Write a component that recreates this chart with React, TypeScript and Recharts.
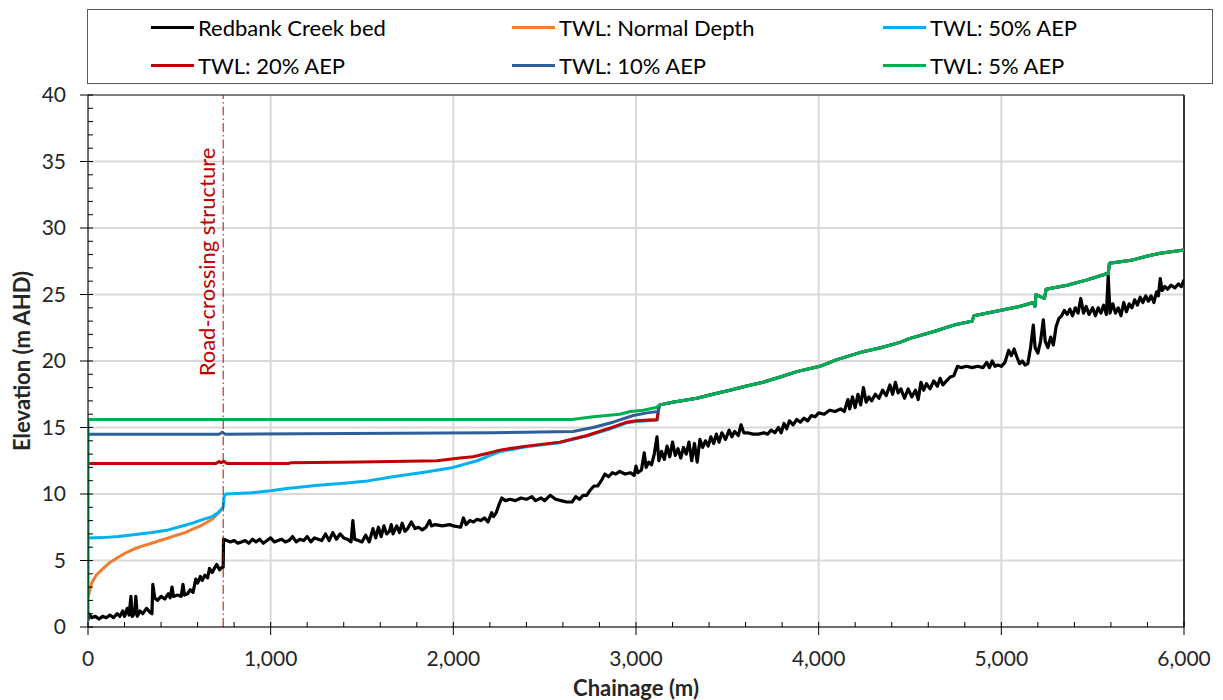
import React from 'react';
import { LineChart, Line, XAxis, YAxis, CartesianGrid, ReferenceLine, Label } from 'recharts';

type Pt = [number, number];

// Redbank Creek bed (chainage m, elevation m AHD)
const bedPoints: Pt[] = [
  [0, 0.5], [5, 1.0], [20, 0.7], [40, 0.8], [60, 0.6], [80, 0.8], [100, 0.7], [120, 0.9], [140, 0.7], [160, 1.0],
  [175, 0.8], [190, 1.2], [200, 0.8], [215, 1.4], [225, 0.9], [235, 2.3], [242, 0.8], [255, 1.0], [262, 2.3], [270, 0.8],
  [285, 1.2], [300, 1.0], [320, 1.4], [340, 1.1], [350, 1.0], [355, 3.2], [365, 2.2], [380, 2.0], [400, 2.3], [420, 2.1],
  [440, 2.5], [450, 2.2], [460, 3.0], [468, 2.3], [490, 2.4], [510, 2.3], [520, 3.2], [528, 2.4], [545, 2.5], [560, 2.8],
  [575, 2.6], [590, 3.6], [600, 3.3], [615, 3.8], [625, 3.5], [640, 3.9], [655, 3.7], [665, 4.4], [680, 4.1], [695, 4.5],
  [705, 4.7], [720, 4.3], [735, 4.5], [740, 4.5], [742, 6.6], [760, 6.5], [780, 6.4], [800, 6.5], [820, 6.3], [840, 6.4],
  [860, 6.5], [880, 6.3], [900, 6.6], [920, 6.4], [940, 6.6], [960, 6.3], [980, 6.5], [1000, 6.7], [1020, 6.4], [1040, 6.5],
  [1060, 6.6], [1080, 6.4], [1100, 6.5], [1120, 6.8], [1140, 6.4], [1160, 6.6], [1180, 6.5], [1200, 6.8], [1220, 6.4], [1240, 6.7],
  [1260, 6.6], [1280, 6.5], [1300, 7.0], [1320, 6.5], [1340, 7.1], [1360, 6.6], [1380, 7.0], [1400, 6.7], [1420, 6.6], [1440, 6.4],
  [1450, 8.0], [1460, 6.6], [1480, 6.5], [1500, 6.4], [1520, 6.9], [1540, 6.4], [1560, 7.4], [1575, 6.7], [1590, 7.5], [1605, 6.8],
  [1620, 7.6], [1635, 7.0], [1650, 7.2], [1660, 7.7], [1670, 7.0], [1690, 7.6], [1705, 7.1], [1720, 7.8], [1735, 7.2], [1750, 7.4],
  [1770, 7.9], [1790, 7.4], [1810, 7.5], [1830, 7.3], [1850, 7.5], [1870, 8.0], [1880, 7.6], [1900, 7.7], [1940, 7.6], [1980, 7.7],
  [2000, 7.6], [2040, 7.5], [2055, 8.2], [2070, 7.7], [2090, 8.0], [2110, 7.9], [2130, 8.1], [2150, 8.0], [2170, 8.2], [2190, 7.9],
  [2210, 8.6], [2220, 8.3], [2235, 8.6], [2250, 9.2], [2265, 9.7], [2285, 9.5], [2310, 9.6], [2340, 9.5], [2370, 9.7], [2400, 9.6],
  [2430, 9.8], [2450, 9.5], [2480, 9.7], [2500, 9.5], [2530, 9.9], [2560, 9.6], [2590, 9.5], [2620, 9.4], [2650, 9.4], [2670, 9.8],
  [2690, 9.6], [2710, 9.9], [2730, 9.9], [2750, 10.3], [2770, 10.6], [2790, 10.6], [2810, 11.0], [2830, 11.5], [2850, 11.3], [2870, 11.6],
  [2890, 11.5], [2910, 11.7], [2940, 11.5], [2970, 11.6], [2990, 11.4], [3000, 12.1], [3010, 11.6], [3030, 11.8], [3045, 13.1], [3055, 12.0],
  [3070, 12.4], [3085, 12.2], [3100, 13.0], [3115, 14.3], [3125, 12.5], [3140, 13.2], [3155, 12.6], [3170, 13.6], [3185, 12.8], [3200, 13.9],
  [3215, 12.9], [3230, 13.4], [3245, 12.7], [3260, 13.5], [3275, 13.0], [3290, 13.9], [3305, 12.5], [3320, 13.8], [3335, 12.4], [3350, 14.1],
  [3365, 13.5], [3380, 14.0], [3395, 13.6], [3410, 14.3], [3425, 13.8], [3440, 14.5], [3455, 13.9], [3470, 14.6], [3490, 14.1], [3510, 14.8],
  [3525, 14.3], [3540, 14.7], [3560, 14.4], [3575, 15.2], [3590, 14.6], [3610, 14.6], [3640, 14.5], [3670, 14.5], [3700, 14.6], [3720, 14.5],
  [3740, 14.8], [3760, 14.6], [3780, 15.0], [3795, 14.6], [3810, 15.3], [3825, 14.9], [3840, 15.5], [3860, 15.2], [3880, 15.6], [3900, 15.4],
  [3920, 15.7], [3940, 15.5], [3960, 15.9], [3980, 15.8], [4000, 16.1], [4030, 16.0], [4060, 16.3], [4090, 16.2], [4120, 16.4], [4140, 16.2],
  [4160, 17.1], [4170, 16.4], [4185, 17.3], [4200, 16.5], [4215, 17.5], [4230, 16.7], [4245, 18.0], [4260, 16.9], [4275, 17.3], [4290, 17.0],
  [4310, 17.5], [4330, 17.2], [4350, 17.8], [4370, 17.4], [4390, 18.2], [4405, 17.5], [4420, 18.4], [4435, 17.6], [4450, 17.9], [4470, 17.2],
  [4490, 17.9], [4510, 17.3], [4530, 17.8], [4545, 17.1], [4560, 18.4], [4575, 17.8], [4590, 18.3], [4610, 17.9], [4630, 18.5], [4650, 18.1],
  [4665, 18.7], [4680, 18.2], [4700, 18.5], [4720, 18.8], [4740, 18.9], [4760, 19.6], [4780, 19.5], [4810, 19.6], [4840, 19.5], [4870, 19.6],
  [4900, 19.5], [4920, 19.9], [4935, 19.5], [4950, 20.0], [4965, 19.6], [4980, 19.7], [5000, 19.6], [5020, 19.9], [5040, 20.8], [5055, 20.4],
  [5070, 20.9], [5085, 20.3], [5100, 19.8], [5115, 20.0], [5130, 19.7], [5145, 19.8], [5160, 21.0], [5175, 22.7], [5185, 21.0], [5200, 20.6],
  [5215, 21.5], [5230, 23.1], [5240, 21.5], [5255, 21.0], [5270, 21.8], [5285, 21.2], [5300, 22.6], [5315, 23.2], [5330, 23.4], [5345, 23.8],
  [5360, 23.5], [5375, 23.9], [5390, 23.4], [5405, 24.0], [5420, 23.6], [5435, 24.7], [5450, 23.6], [5465, 24.1], [5480, 23.5], [5500, 24.0],
  [5515, 23.4], [5530, 24.0], [5545, 23.6], [5560, 24.2], [5575, 23.5], [5585, 26.4], [5595, 23.6], [5610, 24.3], [5625, 23.6], [5640, 24.0],
  [5655, 23.4], [5670, 24.4], [5685, 23.7], [5700, 24.3], [5715, 24.0], [5730, 24.6], [5745, 24.2], [5760, 24.8], [5775, 24.4], [5790, 24.9],
  [5805, 24.5], [5820, 24.9], [5835, 24.4], [5850, 25.2], [5860, 24.9], [5870, 26.2], [5880, 25.3], [5895, 25.6], [5910, 25.4], [5930, 25.7],
  [5950, 25.5], [5970, 25.8], [5985, 25.6], [6000, 26.1],
];

// TWL: Normal Depth
const normalDepthPoints: Pt[] = [
  [0, 2.2], [20, 3.3], [45, 3.9], [75, 4.3], [120, 4.85], [166, 5.25], [210, 5.6], [257, 5.9], [300, 6.1], [349, 6.3],
  [395, 6.5], [440, 6.7], [485, 6.9], [531, 7.1], [580, 7.4], [622, 7.65], [680, 8.1], [713, 8.55], [740, 9.0],
];

// Upstream (independent) parts of each TWL profile
const aep50Head: Pt[] = [
  [0, 6.7], [80, 6.72], [166, 6.8], [260, 6.95], [349, 7.1], [440, 7.3], [531, 7.65], [580, 7.85], [622, 8.05], [680, 8.3],
  [713, 8.6], [740, 9.0], [745, 9.8], [755, 10.0], [896, 10.1], [1000, 10.25], [1078, 10.4], [1259, 10.65], [1400, 10.8], [1516, 10.95],
  [1670, 11.3], [1850, 11.65], [2000, 12.0], [2130, 12.5], [2220, 13.0], [2260, 13.2], [2400, 13.55], [2580, 13.85], [2730, 14.35], [2860, 14.9],
  [2950, 15.35], [3000, 15.45], [3115, 15.55], [3125, 16.5],
];
const aep20Head: Pt[] = [
  [0, 12.3], [700, 12.3], [718, 12.45], [728, 12.35], [745, 12.45], [760, 12.3], [1100, 12.3], [1110, 12.35], [1489, 12.4], [1911, 12.5],
  [2036, 12.7], [2108, 12.8], [2184, 13.05], [2255, 13.3], [2400, 13.6], [2583, 13.9], [2731, 14.4], [2857, 14.95], [2950, 15.4], [3000, 15.5],
  [3115, 15.6], [3125, 16.5],
];
const aep10Head: Pt[] = [
  [0, 14.5], [720, 14.5], [735, 14.65], [750, 14.5], [2217, 14.6], [2655, 14.7], [2765, 15.0], [2874, 15.4], [2985, 15.9], [3060, 16.1],
  [3120, 16.2],
];
const aep5Head: Pt[] = [
  [0, 0.5], [0, 15.6], [2650, 15.6], [2765, 15.8], [2910, 16.0], [2970, 16.2], [3040, 16.3], [3110, 16.5],
];
// Downstream reach where all TWL profiles coincide
const twlTail: Pt[] = [
  [3131, 16.7], [3200, 16.9], [3333, 17.2], [3420, 17.5], [3514, 17.8], [3600, 18.1], [3695, 18.4], [3790, 18.8], [3880, 19.2], [4007, 19.6],
  [4100, 20.1], [4243, 20.7], [4340, 21.0], [4445, 21.4], [4500, 21.7], [4627, 22.2], [4740, 22.7], [4840, 23.0], [4850, 23.4], [4992, 23.8],
  [5100, 24.1], [5175, 24.4], [5184, 24.1], [5190, 25.0], [5236, 24.7], [5245, 25.4], [5360, 25.7], [5470, 26.1], [5585, 26.6], [5592, 27.35],
  [5720, 27.6], [5800, 27.9], [5870, 28.1], [6000, 28.35],
];

const xMajorTicks = [0, 1000, 2000, 3000, 4000, 5000, 6000];
const xMinorTicks = [
  0, 200, 400, 600, 800, 1000, 1200, 1400, 1600, 1800, 2000, 2200, 2400, 2600, 2800, 3000, 3200, 3400, 3600, 3800,
  4000, 4200, 4400, 4600, 4800, 5000, 5200, 5400, 5600, 5800, 6000,
];
const yMajorTicks = [0, 5, 10, 15, 20, 25, 30, 35, 40];
const yMinorTicks = [
  0, 1, 2, 3, 4, 5, 6, 7, 8, 9, 10, 11, 12, 13, 14, 15, 16, 17, 18, 19, 20, 21, 22, 23, 24, 25, 26, 27, 28, 29, 30,
  31, 32, 33, 34, 35, 36, 37, 38, 39, 40,
];
const roadCrossingChainage = 740;

const toData = (pts: Pt[]) => pts.map(([x, y]) => ({ x, y }));

const series = [
  { name: 'Redbank Creek bed', color: '#000000', width: 3.2, data: toData(bedPoints) },
  { name: 'TWL: Normal Depth', color: '#ed7d31', width: 3, data: toData(normalDepthPoints) },
  { name: 'TWL: 50% AEP', color: '#00b0f0', width: 3, data: toData([...aep50Head, ...twlTail]) },
  { name: 'TWL: 20% AEP', color: '#c00000', width: 3, data: toData([...aep20Head, ...twlTail]) },
  { name: 'TWL: 10% AEP', color: '#2f5f99', width: 3, data: toData([...aep10Head, ...twlTail]) },
  { name: 'TWL: 5% AEP', color: '#00b050', width: 3, data: toData([...aep5Head, ...twlTail]) },
];

const legendCols = [63, 424, 795];
const legendRows = [17, 55];

const FONT = 'Lato, sans-serif';

const RoadLabel = (props: any) => {
  const vb = props.viewBox || {};
  const cx = vb.x - 17;
  const cy = vb.y + 167;
  return (
    <text
      x={cx}
      y={cy}
      transform={`rotate(-90 ${cx} ${cy})`}
      textAnchor="middle"
      dominantBaseline="central"
      fill="#c00000"
      fontSize={22}
      fontFamily={FONT}
    >
      Road-crossing structure
    </text>
  );
};

const emptyTick = () => '';

export default function App() {
  return (
    <div style={{ position: 'relative', width: 1215, height: 692, fontFamily: FONT }}>
      <LineChart
        width={1215}
        height={692}
        margin={{ top: 87, right: 39, left: 0, bottom: 0 }}
        style={{ fontFamily: FONT }}
      >
        <CartesianGrid stroke="#d9d9d9" strokeWidth={2} />
        <XAxis
          dataKey="x"
          type="number"
          domain={[0, 6000]}
          ticks={xMajorTicks}
          interval={0}
          allowDataOverflow
          height={73}
          tickSize={8}
          tickMargin={16}
          stroke="#000"
          tick={{ fontSize: 21, fill: '#262626', fontFamily: FONT }}
          tickFormatter={(v: number) => v.toLocaleString('en-US')}
        >
          <Label
            value="Chainage (m)"
            position="insideBottom"
            offset={4}
            style={{ fontSize: 22, fontWeight: 700, fill: '#262626', fontFamily: FONT }}
          />
        </XAxis>
        <XAxis
          xAxisId="minor"
          dataKey="x"
          type="number"
          domain={[0, 6000]}
          ticks={xMinorTicks}
          interval={0}
          allowDataOverflow
          mirror
          axisLine={false}
          tickSize={5}
          stroke="#000"
          tickFormatter={emptyTick}
        />
        <YAxis
          type="number"
          domain={[0, 40]}
          ticks={yMajorTicks}
          interval={0}
          allowDataOverflow
          width={80}
          tickSize={8}
          tickMargin={14}
          stroke="#000"
          tick={{ fontSize: 21, fill: '#262626', fontFamily: FONT }}
        >
          <Label
            value="Elevation (m AHD)"
            angle={-90}
            position="insideLeft"
            offset={14}
            style={{ fontSize: 22, fontWeight: 700, fill: '#262626', textAnchor: 'middle', fontFamily: FONT }}
          />
        </YAxis>
        <YAxis
          yAxisId="minor"
          type="number"
          domain={[0, 40]}
          ticks={yMinorTicks}
          interval={0}
          allowDataOverflow
          mirror
          axisLine={false}
          tickSize={5}
          stroke="#000"
          tickFormatter={emptyTick}
        />
        <ReferenceLine y={40} stroke="#808080" strokeWidth={2} />
        <ReferenceLine x={6000} stroke="#000" strokeWidth={1.5} />
        {series.map((s) => (
          <Line
            key={s.name}
            data={s.data}
            dataKey="y"
            name={s.name}
            type="linear"
            stroke={s.color}
            strokeWidth={s.width}
            strokeLinejoin="round"
            dot={false}
            activeDot={false}
            isAnimationActive={false}
          />
        ))}
        <ReferenceLine
          x={roadCrossingChainage}
          stroke="#c00000"
          strokeWidth={1}
          strokeDasharray="9 3 1.5 3"
        >
          <Label content={RoadLabel} />
        </ReferenceLine>
      </LineChart>
      <div
        style={{
          position: 'absolute',
          left: 79,
          top: 1,
          width: 1126,
          height: 75,
          border: '1px solid #595959',
          boxSizing: 'border-box',
          background: '#fff',
        }}
      >
        {series.map((s, i) => {
          const col = i % 3;
          const row = Math.floor(i / 3);
          return (
            <div
              key={s.name}
              style={{
                position: 'absolute',
                left: legendCols[col],
                top: legendRows[row] - 15,
                height: 30,
                display: 'flex',
                alignItems: 'center',
                whiteSpace: 'nowrap',
              }}
            >
              <div style={{ width: 43, height: 3, background: s.color, marginRight: 4 }} />
              <span style={{ fontSize: 22, color: '#000', fontFamily: FONT }}>{s.name}</span>
            </div>
          );
        })}
      </div>
    </div>
  );
}
